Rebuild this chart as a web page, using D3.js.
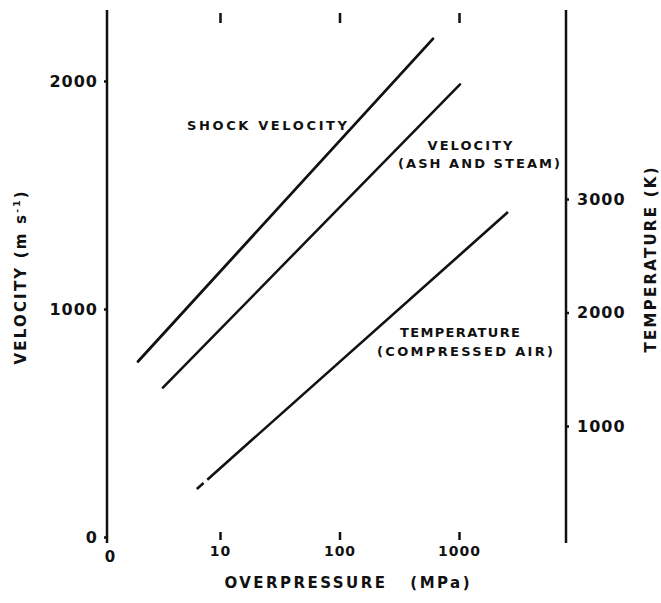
<!DOCTYPE html>
<html>
<head>
<meta charset="utf-8">
<script src="https://cdn.jsdelivr.net/npm/d3@7"></script>
<style>
  body { margin: 0; background: #fff; }
  svg { display: block; }
  text { font-family: "DejaVu Sans", sans-serif; font-weight: bold; fill: #111; }
</style>
</head>
<body>
<div id="chart"></div>
<script>
const W = 661, H = 603;
const plot = { left: 107, right: 566, top: 10, bottom: 543 };

// overpressure ticks (MPa, log axis)
const xTicks = [10, 100, 1000];
const velTicks = [0, 1000, 2000];
const tempTicks = [1000, 2000, 3000];

// lines: p = overpressure (MPa)
const shockVelocity = [{ p: 2.06, v: 770 }, { p: 605, v: 2185 }];
const gasVelocity = [{ p: 3.33, v: 655 }, { p: 1020, v: 1985 }];
const airTemperature = [{ p: 6.4, t: 445 }, { p: 2570, t: 2885 }];

const x = d3.scaleLog().domain([10, 1000]).range([220, 459]);
const yVel = d3.scaleLinear().domain([0, 2000]).range([537, 81]);
const yTemp = d3.scaleLinear().domain([1000, 3000]).range([426, 199]);

const svg = d3.select("#chart").append("svg")
    .attr("width", W)
    .attr("height", H);

// frame lines (left + right only)
[plot.left, plot.right].forEach(px => {
  svg.append("line")
      .attr("x1", px).attr("x2", px)
      .attr("y1", plot.top).attr("y2", plot.bottom)
      .attr("stroke", "#111").attr("stroke-width", 2.5);
});

// left axis (velocity)
const gL = svg.append("g")
    .attr("transform", `translate(${plot.left},0)`)
    .call(d3.axisLeft(yVel).tickValues(velTicks).tickSize(3).tickPadding(6).tickFormat(d3.format("d")));
gL.select(".domain").remove();

// right axis (temperature)
const gR = svg.append("g")
    .attr("transform", `translate(${plot.right},0)`)
    .call(d3.axisRight(yTemp).tickValues(tempTicks).tickSize(3).tickPadding(8).tickFormat(d3.format("d")));
gR.select(".domain").remove();

[gL, gR].forEach(g => {
  g.selectAll(".tick line").attr("stroke", "#111").attr("stroke-width", 2.5);
  g.selectAll(".tick text")
      .style("font-size", "16px")
      .style("letter-spacing", "1px")
      .attr("fill", "#111");
});

// bottom axis
const gB = svg.append("g")
    .attr("transform", "translate(0,532)")
    .call(d3.axisBottom(x).tickValues(xTicks).tickSize(8).tickPadding(6).tickFormat(d3.format("d")));
gB.select(".domain").remove();
gB.selectAll(".tick line").attr("stroke", "#111").attr("stroke-width", 2.5);
gB.selectAll(".tick text").style("font-size", "14px").style("letter-spacing", "1px").attr("fill", "#111");

// top ticks
const gT = svg.append("g")
    .attr("transform", "translate(0,23)")
    .call(d3.axisTop(x).tickValues(xTicks).tickSize(10).tickFormat(""));
gT.select(".domain").remove();
gT.selectAll(".tick line").attr("stroke", "#111").attr("stroke-width", 2.5);

// origin label
svg.append("text")
    .attr("x", 110).attr("y", 562)
    .attr("text-anchor", "middle")
    .style("font-size", "15px")
    .text("0");

// axis titles
svg.append("text")
    .attr("x", 347).attr("y", 588)
    .attr("text-anchor", "middle")
    .attr("textLength", 245).attr("lengthAdjust", "spacing")
    .style("font-size", "15px")
    .text("OVERPRESSURE\u00A0\u00A0\u00A0(MPa)");

const vt = svg.append("text")
    .attr("transform", "translate(26,278) rotate(-90)")
    .attr("text-anchor", "middle")
    .attr("textLength", 173).attr("lengthAdjust", "spacing")
    .style("font-size", "15px");
vt.append("tspan").text("VELOCITY (m s");
vt.append("tspan").attr("dy", -6).style("font-size", "9px").text("-1");
vt.append("tspan").attr("dy", 6).text(")");

svg.append("text")
    .attr("transform", "translate(656,260) rotate(-90)")
    .attr("text-anchor", "middle")
    .attr("textLength", 185).attr("lengthAdjust", "spacing")
    .style("font-size", "15px")
    .text("TEMPERATURE (K)");

// lines
const lineVel = d3.line().x(d => x(d.p)).y(d => yVel(d.v));
const lineTemp = d3.line().x(d => x(d.p)).y(d => yTemp(d.t));

svg.append("path").datum(shockVelocity)
    .attr("d", lineVel)
    .attr("fill", "none").attr("stroke", "#111").attr("stroke-width", 2.8).attr("stroke-linecap", "round");
svg.append("path").datum(gasVelocity)
    .attr("d", lineVel)
    .attr("fill", "none").attr("stroke", "#111").attr("stroke-width", 2.5).attr("stroke-linecap", "round");
svg.append("path").datum(airTemperature)
    .attr("d", lineTemp)
    .attr("fill", "none").attr("stroke", "#111").attr("stroke-width", 2.6)
    .attr("stroke-dasharray", "9 5 2000");

// curve labels
const labels = [
  { text: "SHOCK VELOCITY", x: 267, y: 130, len: 160 },
  { text: "VELOCITY", x: 470, y: 150, len: 85 },
  { text: "(ASH AND STEAM)", x: 479, y: 168, len: 162 },
  { text: "TEMPERATURE", x: 460, y: 337, len: 120 },
  { text: "(COMPRESSED AIR)", x: 465, y: 356, len: 176 }
];
svg.selectAll(".lbl").data(labels).enter().append("text")
    .attr("class", "lbl")
    .attr("x", d => d.x).attr("y", d => d.y)
    .attr("text-anchor", "middle")
    .attr("textLength", d => d.len).attr("lengthAdjust", "spacing")
    .style("font-size", "13px")
    .text(d => d.text);
</script>
</body>
</html>
